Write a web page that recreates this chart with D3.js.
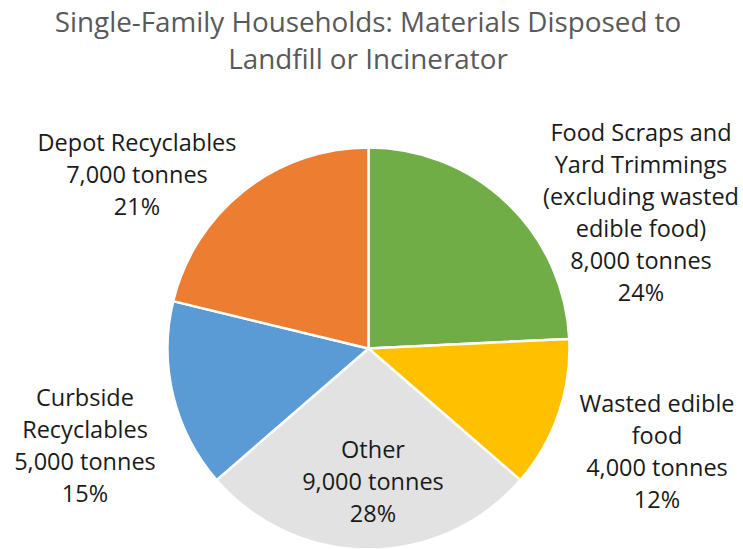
<!DOCTYPE html>
<html>
<head>
<meta charset="utf-8">
<script src="https://cdn.jsdelivr.net/npm/d3@7"></script>
<style>
  html, body { margin: 0; padding: 0; background: #fff; }
  svg { display: block; }
  text { font-family: "Open Sans", Lato, sans-serif; }
</style>
</head>
<body>
<svg id="chart" width="743" height="549"></svg>
<script>
// Disposal breakdown for single-family households
const titleLines = ["Single-Family Households: Materials Disposed to", "Landfill or Incinerator"];
const categories = [
  "Food Scraps and Yard Trimmings (excluding wasted edible food)",
  "Wasted edible food",
  "Other",
  "Curbside Recyclables",
  "Depot Recyclables"
];
const categoryLines = [
  ["Food Scraps and", "Yard Trimmings", "(excluding wasted", "edible food)"],
  ["Wasted edible", "food"],
  ["Other"],
  ["Curbside", "Recyclables"],
  ["Depot Recyclables"]
];
const tonnes = [8000, 4000, 9000, 5000, 7000];
const percentLabels = ["24%", "12%", "28%", "15%", "21%"];

// Presentation
const colors = ["#70AD47", "#FFC000", "#E2E2E2", "#5B9BD5", "#ED7D31"];
const center = { x: 368.5, y: 348.5 };
const radius = 201;
const lineGap = 32;
// label anchor: centre x and first baseline y
const labelAnchors = [
  { x: 641, y: 141 },
  { x: 657, y: 412 },
  { x: 373, y: 458 },
  { x: 85,  y: 406 },
  { x: 137, y: 151 }
];

const svg = d3.select("#chart");
const fmt = d3.format(",");

svg.append("g")
  .selectAll("text")
  .data(titleLines)
  .join("text")
  .attr("x", 368)
  .attr("y", (d, i) => 32 + i * 37)
  .attr("text-anchor", "middle")
  .attr("font-size", 27.8)
  .attr("fill", "#595959")
  .text(d => d);

const pie = d3.pie().sort(null).value(d => d.value);
const arc = d3.arc().innerRadius(0).outerRadius(radius);

const data = categories.map((c, i) => ({ name: c, value: tonnes[i], i }));

svg.append("g")
  .attr("transform", `translate(${center.x},${center.y})`)
  .selectAll("path")
  .data(pie(data))
  .join("path")
  .attr("d", arc)
  .attr("fill", d => colors[d.data.i])
  .attr("stroke", "#fff")
  .attr("stroke-width", 2.5)
  .attr("stroke-linejoin", "round");

const labels = svg.append("g")
  .selectAll("text")
  .data(data)
  .join("text")
  .attr("text-anchor", "middle")
  .attr("font-size", 23.5)
  .attr("fill", "#1a1a1a");

labels.each(function (d) {
  const a = labelAnchors[d.i];
  const lines = categoryLines[d.i].concat([fmt(d.value) + " tonnes", percentLabels[d.i]]);
  d3.select(this).selectAll("tspan")
    .data(lines)
    .join("tspan")
    .attr("x", a.x)
    .attr("y", (l, k) => a.y + k * lineGap)
    .text(l => l);
});
</script>
</body>
</html>
